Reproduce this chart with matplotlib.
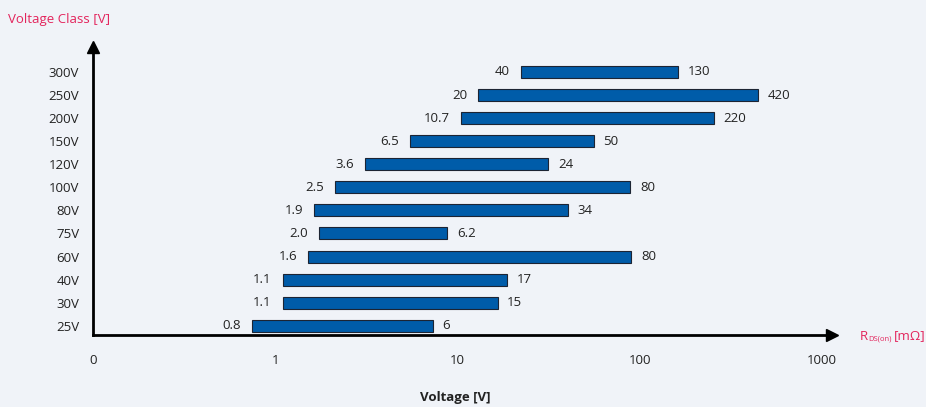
import numpy as np
import matplotlib.pyplot as plt

# voltage classes (bottom -> top)
classes = ["25V", "30V", "40V", "60V", "75V", "80V", "100V", "120V", "150V", "200V", "250V", "300V"]
# printed R_DS(on) range labels [mOhm]
lo_labels = ["0.8", "1.1", "1.1", "1.6", "2.0", "1.9", "2.5", "3.6", "6.5", "10.7", "20", "40"]
hi_labels = ["6", "15", "17", "80", "6.2", "34", "80", "24", "50", "220", "420", "130"]
# bar extents as drawn in the picture (log axis, mOhm)
bar_lo = [0.75, 1.1, 1.1, 1.52, 1.74, 1.64, 2.13, 3.1, 5.5, 10.5, 13.0, 22.4]
bar_hi = [7.3, 16.6, 18.7, 90, 8.8, 40.5, 89, 31.5, 56, 256, 447, 163]

xticks = [0.1, 1, 10, 100, 1000]
xtick_labels = ["0", "1", "10", "100", "1000"]

plt.rcParams['font.family'] = ['Open Sans', 'DejaVu Sans']
bg = '#f0f3f8'
pink = '#e3245c'
blue = '#005ca9'

fig = plt.figure(figsize=(9.26, 4.07), dpi=100, facecolor=bg)
ax = fig.add_axes([93/926, (407-335)/407, 744/926, 293/407])
ax.set_facecolor(bg)
ax.set_xscale('log')
ax.set_xlim(0.1, 1210)
ax.set_ylim(-0.4, 12.3)

y = np.arange(len(classes))
lo = np.array(bar_lo)
hi = np.array(bar_hi)
ax.barh(y, hi - lo, left=lo, height=0.52, color=blue, edgecolor='#1c2433', linewidth=0.8)

for yi, l, h, ls, hs in zip(y, lo, hi, lo_labels, hi_labels):
    ax.annotate(ls, (l, yi), xytext=(-8, 0), textcoords='offset points',
                ha='right', va='center', fontsize=9.5, color='#222222')
    ax.annotate(hs, (h, yi), xytext=(7, 0), textcoords='offset points',
                ha='left', va='center', fontsize=9.5, color='#222222')

# axes with arrows
for s in ax.spines.values():
    s.set_visible(False)
ax.plot([0, 0.985], [0, 0], color='black', lw=2, transform=ax.transAxes, clip_on=False)
ax.plot([0, 0], [0, 0.96], color='black', lw=2, transform=ax.transAxes, clip_on=False)
ax.plot(1 - 5/744, 0, '>', color='black', ms=9, transform=ax.transAxes, clip_on=False)
ax.plot(0, 1 - 5/293, '^', color='black', ms=9, transform=ax.transAxes, clip_on=False)

ax.set_yticks(y)
ax.set_yticklabels(classes, fontsize=9.5, color='#222222')
ax.set_xticks(xticks)
ax.set_xticklabels(xtick_labels, fontsize=9.5, color='#222222')
ax.minorticks_off()
ax.tick_params(axis='y', length=0, pad=10)
ax.tick_params(axis='x', length=0, pad=14)

fig.text(8/926, 1 - 20/407, "Voltage Class [V]", color=pink, fontsize=9.5, va='center', ha='left')
# R_DS(on) [mΩ] composed from pieces so it fits the right edge
fig.text(860/926, 1 - 336/407, "R", color=pink, fontsize=9.5, va='center', ha='left')
fig.text(868/926, 1 - 339/407, "DS(on)", color=pink, fontsize=5.5, va='center', ha='left')
fig.text(894/926, 1 - 336/407, "[mΩ]", color=pink, fontsize=9.5, va='center', ha='left')
fig.text(455/926, 1 - 398/407, "Voltage [V]", fontsize=9.5, fontweight='bold',
         color='#222222', va='center', ha='center')

fig.savefig('out.png', dpi=100, facecolor=bg)
